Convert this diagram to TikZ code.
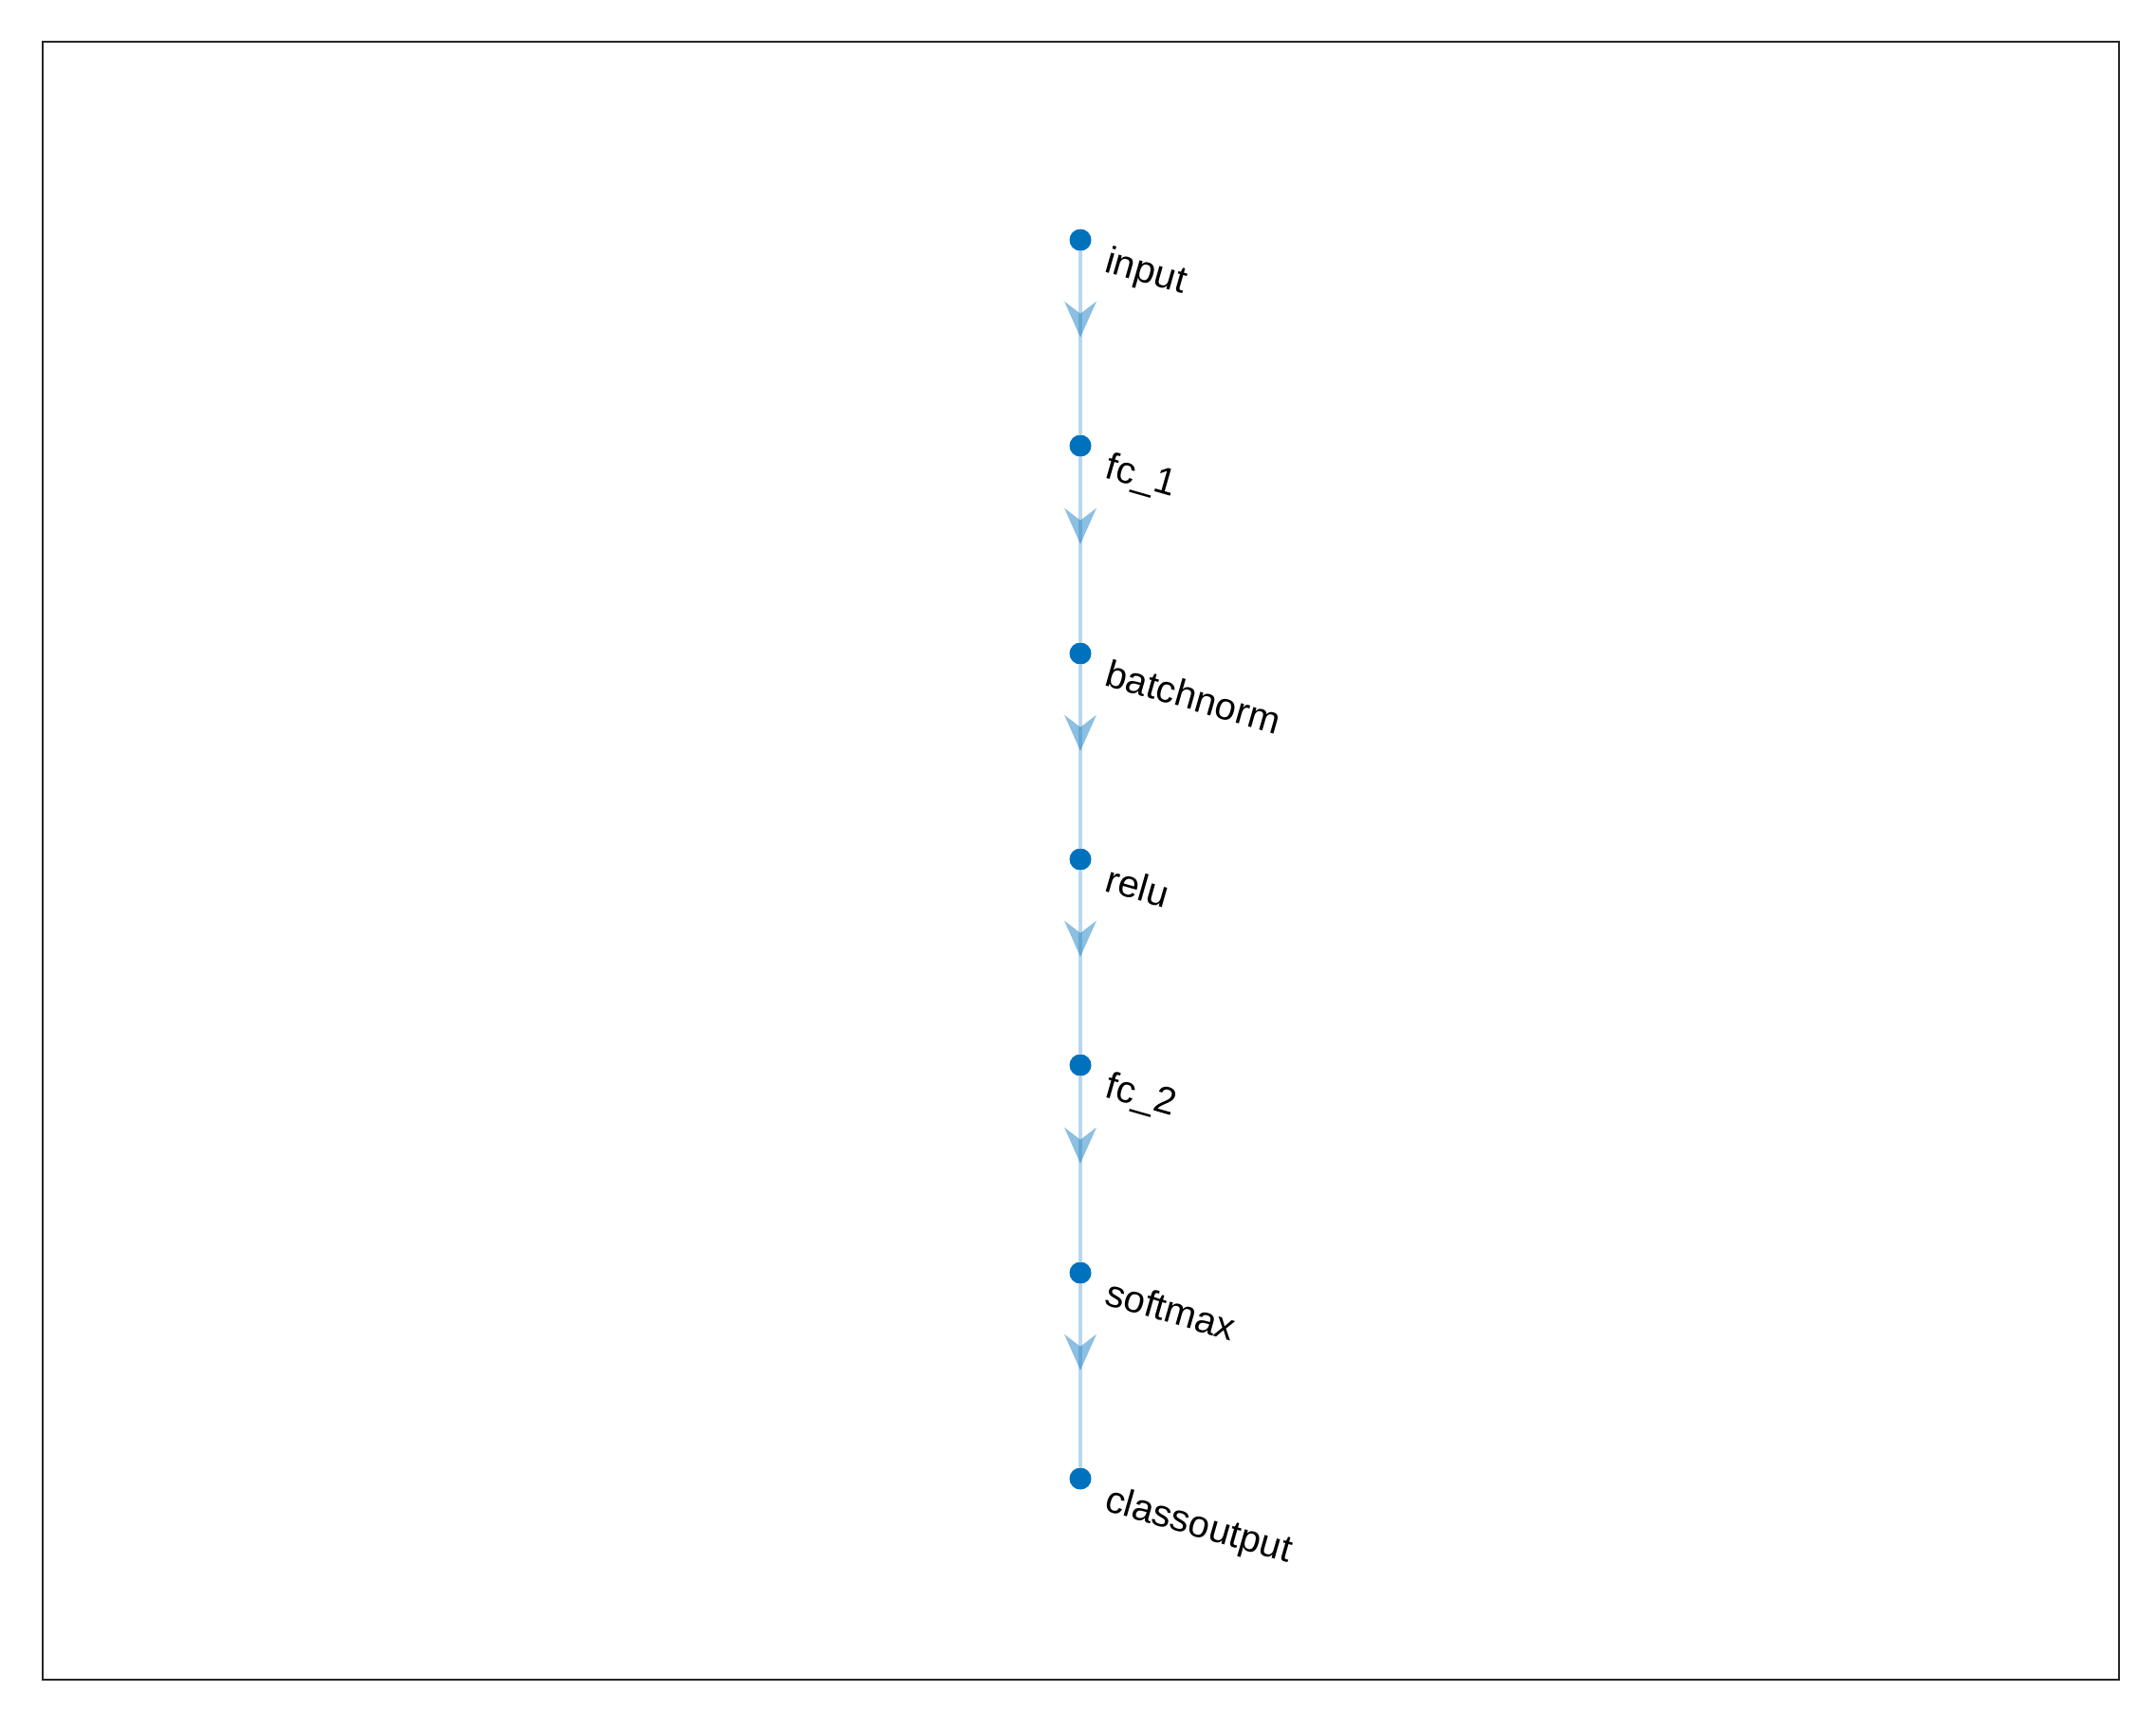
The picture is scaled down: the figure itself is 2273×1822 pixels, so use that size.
\documentclass[tikz,border=0pt]{standalone}
\usepackage{fontspec}
\setmainfont{Liberation Sans}
\usetikzlibrary{decorations.markings}
\definecolor{nodeblue}{HTML}{0072BD}
\definecolor{frame}{HTML}{262626}
\begin{document}
\begin{tikzpicture}[x=0.5pt,y=-0.5pt,
  dot/.style={circle,fill=nodeblue,inner sep=0pt,minimum size=11.5pt},
  lab/.style={anchor=base west,rotate=-16,inner sep=0pt,font=\fontsize{20}{24}\selectfont,text=black},
  edge/.style={draw=nodeblue,draw opacity=0.28,line width=2.4pt,
    postaction={decorate,decoration={markings,mark=at position 0.47 with {\fill[nodeblue,fill opacity=0.45] (0pt,0pt) -- (-19pt,8.5pt) -- (-12.5pt,0pt) -- (-19pt,-8.5pt) -- cycle;}}}}]
\useasboundingbox (0,0) rectangle (2273,1822);
\fill[white] (0,0) rectangle (2273,1822);
\draw[frame,line width=1.3pt] (45,44) rectangle (2234,1771);
\node[dot] (input) at (1139,253) {};
\node[dot] (fc1) at (1139,470) {};
\node[dot] (bn) at (1139,689) {};
\node[dot] (relu) at (1139,906) {};
\node[dot] (fc2) at (1139,1123) {};
\node[dot] (sm) at (1139,1342) {};
\node[dot] (co) at (1139,1559) {};
\path[edge] (input) -- (fc1);
\path[edge] (fc1) -- (bn);
\path[edge] (bn) -- (relu);
\path[edge] (relu) -- (fc2);
\path[edge] (fc2) -- (sm);
\path[edge] (sm) -- (co);
\node[lab] (inputL) at ([shift={(24,33)}]input.center) {input};
\node[lab] (fc1L) at ([shift={(24,33)}]fc1.center) {fc\_1};
\node[lab] (bnL) at ([shift={(24,33)}]bn.center) {batchnorm};
\node[lab] (reluL) at ([shift={(24,33)}]relu.center) {relu};
\node[lab] (fc2L) at ([shift={(24,33)}]fc2.center) {fc\_2};
\node[lab] (smL) at ([shift={(24,33)}]sm.center) {softmax};
\node[lab] (coL) at ([shift={(24,33)}]co.center) {classoutput};
\end{tikzpicture}
\end{document}
